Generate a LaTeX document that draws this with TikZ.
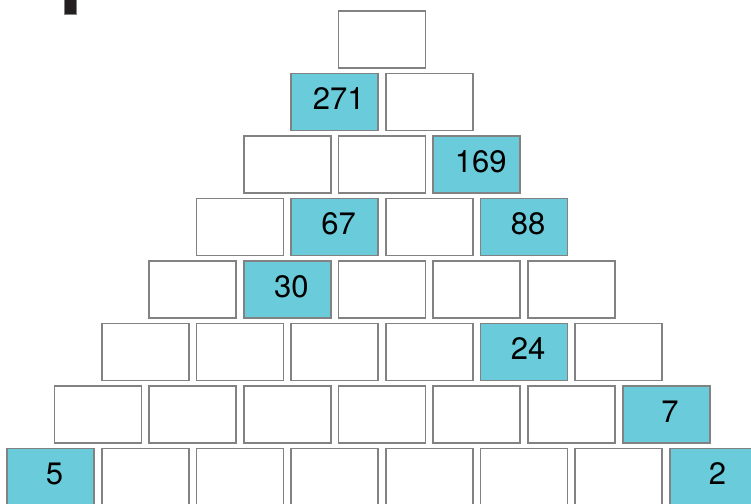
\documentclass[tikz,border=0pt]{standalone}
\usepackage{fontspec}
\setmainfont{TeX Gyre Heros}
\definecolor{cellfill}{RGB}{106,203,218}
\definecolor{cellline}{RGB}{130,130,130}
\definecolor{markfill}{RGB}{35,31,32}
\begin{document}
\begin{tikzpicture}[x=1pt,y=-1pt,
  cell/.style={draw=cellline,line width=1.8pt,fill=white,minimum width=87pt,minimum height=57pt,inner sep=0pt,outer sep=0pt},
  given/.style={cell,fill=cellfill},
  num/.style={inner sep=0pt,font=\fontsize{31}{31}\selectfont}]
\useasboundingbox (0,0) rectangle (751,503);
\fill[markfill,draw=cellline,line width=0.6pt] (64,-2) rectangle (76,14);
\foreach \r in {0,...,7}{
  \foreach \i in {0,...,\r}{
    \pgfmathsetmacro\cx{382 - \r*47.35 + \i*94.7}
    \pgfmathsetmacro\cy{39.5 + \r*62.5}
    \node[cell] (c-\r-\i) at (\cx,\cy) {};
  }
}
\foreach \r/\i/\v in {1/0/271,2/2/169,3/1/67,3/3/88,4/1/30,5/4/24,6/6/7,7/0/5,7/7/2}{
  \node[given] (g-\r-\i) at (c-\r-\i) {};
  \node[num] (t-\r-\i) at ([xshift=4pt,yshift=3pt]g-\r-\i.center) {\v};
}
\end{tikzpicture}
\end{document}
